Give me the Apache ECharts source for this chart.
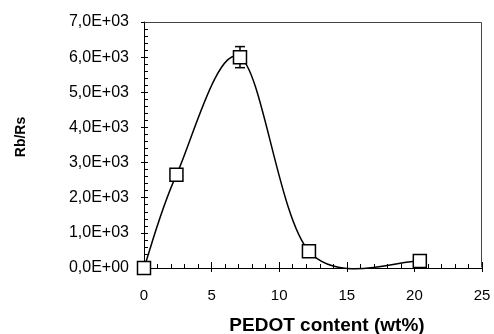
<!DOCTYPE html>
<html>
<head>
<meta charset="utf-8">
<script src="https://cdn.jsdelivr.net/npm/echarts@6/dist/echarts.min.js"></script>
<style>
  html, body { margin: 0; padding: 0; background: #fff; }
  #chart { width: 494px; height: 334px; }
</style>
</head>
<body>
<div id="chart"></div>
<script>
// data
var pedot = [0, 2.4, 7.1, 12.2, 20.4];        // wt%
var ratio = [0, 2650, 6000, 480, 200];         // Rb/Rs
var ratioErr = [0, 0, 300, 0, 0];              // +/- error

var xMin = 0, xMax = 25, yMin = 0, yMax = 7000;

var FONT = "Liberation Sans";

function yLabel(v) {
  if (v === 0) return "0,0E+00";
  return (v / 1000).toFixed(1).replace(".", ",") + "E+03";
}

var points = pedot.map(function (x, i) { return [x, ratio[i]]; });
var errData = pedot.map(function (x, i) {
  return [x, ratio[i] - ratioErr[i], ratio[i] + ratioErr[i]];
}).filter(function (d, i) { return ratioErr[i] > 0; });

// smoothed curve like a spreadsheet "smoothed line" (catmull-rom through the points)
function renderCurve(params, api) {
  if (params.dataIndex !== 0) return;
  var p = points.map(function (d) { return api.coord(d); });
  var path = "M" + p[0][0] + " " + p[0][1];
  for (var i = 0; i < p.length - 1; i++) {
    var p0 = p[i - 1] || p[i];
    var p1 = p[i];
    var p2 = p[i + 1];
    var p3 = p[i + 2] || p[i + 1];
    var c1x = p1[0] + (p2[0] - p0[0]) / 6;
    var c1y = p1[1] + (p2[1] - p0[1]) / 6;
    var c2x = p2[0] - (p3[0] - p1[0]) / 6;
    var c2y = p2[1] - (p3[1] - p1[1]) / 6;
    path += " C" + c1x + " " + c1y + " " + c2x + " " + c2y + " " + p2[0] + " " + p2[1];
  }
  return {
    type: "path",
    shape: { pathData: path },
    style: { fill: null, stroke: "#000", lineWidth: 1.5 }
  };
}

// top and right frame lines, taken from the axis extents
function renderFrame(params, api) {
  var tl = api.coord([xMin, yMax]);
  var tr = api.coord([xMax, yMax]);
  var br = api.coord([xMax, yMin]);
  return {
    type: "polyline",
    shape: { points: [[Math.round(tl[0]) + 0.5, Math.round(tl[1]) + 0.5], [Math.round(tr[0]) - 0.5, Math.round(tr[1]) + 0.5], [Math.round(br[0]) - 0.5, Math.round(br[1]) - 0.5]] },
    style: { fill: null, stroke: "#444", lineWidth: 1 }
  };
}

var myChart = echarts.init(document.getElementById("chart"));

var option = {
  animation: false,
  grid: { left: 144, right: 12, top: 22, bottom: 66, outerBoundsMode: "none", containLabel: false },
  xAxis: [
    {
      type: "value", min: xMin, max: xMax, interval: 5,
      name: "PEDOT content (wt%)", nameLocation: "middle", nameGap: 48,
      nameTextStyle: { fontFamily: FONT, fontWeight: "bold", fontSize: 19, color: "#000", padding: [0, 0, 0, 28] },
      axisLine: { onZero: false, lineStyle: { color: "#000", width: 1 } },
      axisTick: { inside: true, length: 6, lineStyle: { color: "#000" } },
      minorTick: { show: true, splitNumber: 5, length: 4, lineStyle: { color: "#000" } },
      axisLabel: { margin: 20, fontFamily: FONT, fontSize: 15, color: "#000" },
      splitLine: { show: false }
    },
    {
      // outside part of the major ticks
      type: "value", min: xMin, max: xMax, interval: 5, position: "bottom",
      axisLine: { show: false, onZero: false },
      axisTick: { inside: false, length: 4, lineStyle: { color: "#000" } },
      axisLabel: { show: false }, splitLine: { show: false }
    }
  ],
  yAxis: [
    {
      type: "value", min: yMin, max: yMax, interval: 1000,
      name: "Rb/Rs", nameLocation: "middle", nameGap: 116,
      nameTextStyle: { fontFamily: FONT, fontWeight: "bold", fontSize: 14, color: "#000", padding: [0, 0, 0, 16] },
      axisLine: { onZero: false, lineStyle: { color: "#000", width: 1 } },
      axisTick: { inside: true, length: 4, lineStyle: { color: "#000" } },
      minorTick: { show: true, splitNumber: 5, length: 4, lineStyle: { color: "#000" } },
      axisLabel: { margin: 15, fontFamily: FONT, fontSize: 16, color: "#000", formatter: yLabel },
      splitLine: { show: false }
    },
    {
      // outside part of the major ticks
      type: "value", min: yMin, max: yMax, interval: 1000, position: "left",
      axisLine: { show: false, onZero: false },
      axisTick: { inside: false, length: 3, lineStyle: { color: "#000" } },
      axisLabel: { show: false }, splitLine: { show: false }
    }
  ],
  series: [
    {
      type: "custom",
      z: 5,
      clip: false,
      silent: true,
      renderItem: renderFrame,
      data: [[12, 3500]]
    },
    {
      type: "custom",
      z: 1,
      renderItem: function (params, api) {
        var x = api.value(0);
        var lo = api.coord([x, api.value(1)]);
        var hi = api.coord([x, api.value(2)]);
        var w = 5;
        var style = { stroke: "#000", lineWidth: 1.5 };
        return {
          type: "group",
          children: [
            { type: "line", shape: { x1: lo[0], y1: lo[1], x2: hi[0], y2: hi[1] }, style: style },
            { type: "line", shape: { x1: lo[0] - w, y1: lo[1], x2: lo[0] + w, y2: lo[1] }, style: style },
            { type: "line", shape: { x1: hi[0] - w, y1: hi[1], x2: hi[0] + w, y2: hi[1] }, style: style }
          ]
        };
      },
      data: errData
    },
    {
      type: "custom",
      z: 2,
      clip: false,
      renderItem: renderCurve,
      data: points
    },
    {
      type: "scatter",
      z: 3,
      data: points,
      symbol: "rect",
      symbolSize: 13,
      clip: false,
      itemStyle: { color: "#fff", borderColor: "#000", borderWidth: 1.5, opacity: 1 }
    }
  ]
};

myChart.setOption(option);
</script>
</body>
</html>
